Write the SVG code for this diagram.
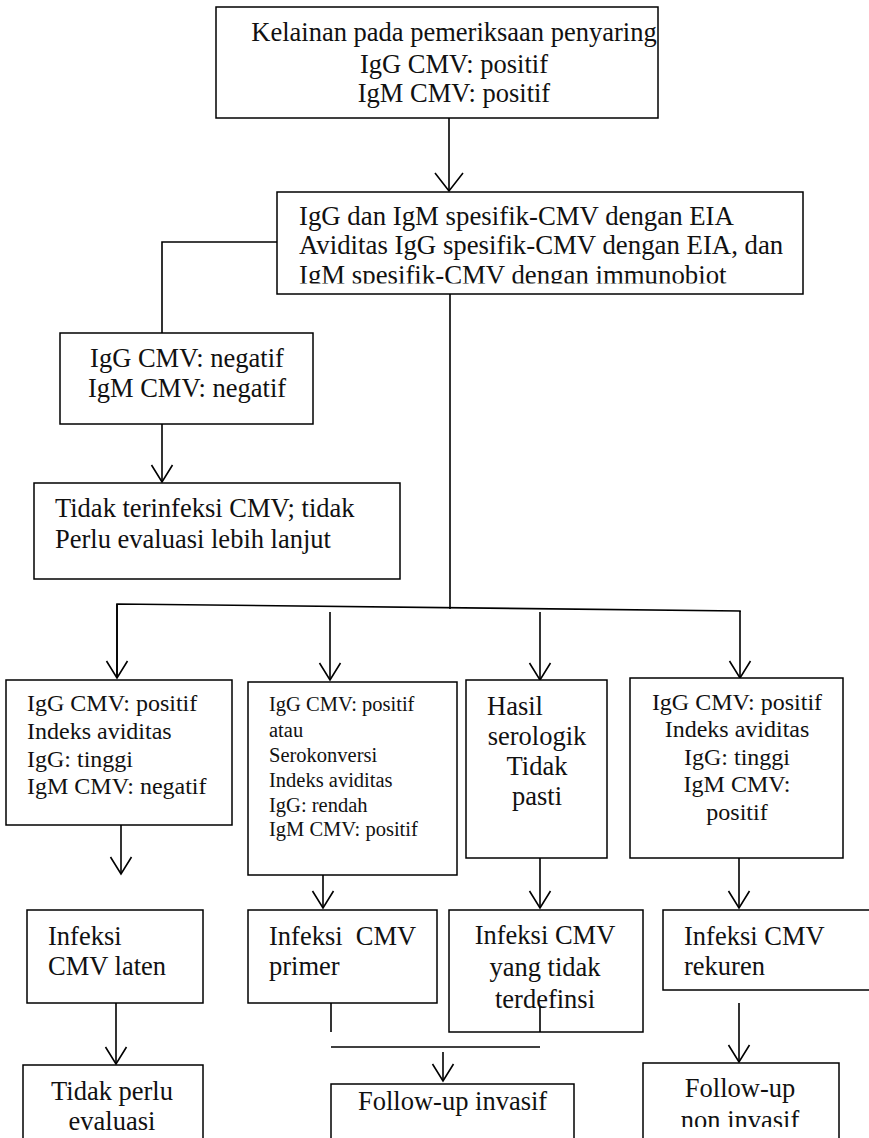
<svg xmlns="http://www.w3.org/2000/svg" width="869" height="1138" viewBox="0 0 869 1138">
  <style>
    .box { fill: #fff; stroke: #000; stroke-width: 1.5; }
    .ln { fill: none; stroke: #000; stroke-width: 1.6; }
    .arr { fill: none; stroke: #000; stroke-width: 1.6; marker-end: url(#vhead); }
    .arr-big { fill: none; stroke: #000; stroke-width: 1.6; marker-end: url(#vhead-big); }
    text { font-family: "Liberation Serif", "Times New Roman", serif; fill: #111; }
    .t26 { font-size: 26.5px; }
    .t27 { font-size: 26.8px; }
    .t24 { font-size: 24px; }
    .t20 { font-size: 20.5px; }
    .mid { text-anchor: middle; }
    .pre { white-space: pre; }
  </style>
  <defs>
    <!-- open V arrowheads -->
    <marker id="vhead" viewBox="-20 -13 24 26" markerWidth="24" markerHeight="26" refX="0" refY="0" orient="auto" markerUnits="userSpaceOnUse" style="overflow:visible">
      <path d="M-17,-10.5 L0,0 L-17,10.5" fill="none" stroke="#000" stroke-width="1.6"/>
    </marker>
    <marker id="vhead-big" viewBox="-22 -16 26 32" markerWidth="26" markerHeight="32" refX="0" refY="0" orient="auto" markerUnits="userSpaceOnUse" style="overflow:visible">
      <path d="M-18,-14 L0,0 L-18,14" fill="none" stroke="#000" stroke-width="1.6"/>
    </marker>
    <clipPath id="clipTest"><rect x="277" y="192" width="526" height="91.5"/></clipPath>
    <clipPath id="clipNonInv"><rect x="643" y="1063" width="196" height="64"/></clipPath>
  </defs>

  <!-- connectors -->
  <g id="connectors">
    <line class="arr-big" x1="449" y1="108" x2="449" y2="191"/>
    <polyline class="ln" points="277,242 162,242 162,343"/>
    <line class="arr" x1="162" y1="424" x2="162" y2="482"/>
    <line class="ln" x1="450" y1="294" x2="450" y2="609"/>
    <polyline class="ln" points="117,678 117,604 740,611 740,612"/>
    <line class="arr" x1="117" y1="604" x2="117" y2="678"/>
    <line class="arr" x1="330" y1="612" x2="330" y2="680"/>
    <line class="arr" x1="540" y1="612" x2="540" y2="680"/>
    <line class="arr" x1="740" y1="611" x2="740" y2="678"/>
    <line class="arr" x1="121" y1="825" x2="121" y2="874"/>
    <line class="arr" x1="323" y1="860" x2="323" y2="908"/>
    <line class="arr" x1="540" y1="858" x2="540" y2="908"/>
    <line class="arr" x1="739" y1="858" x2="739" y2="908"/>
    <line class="arr" x1="116" y1="1003" x2="116" y2="1064"/>
    <line class="ln" x1="331" y1="1003" x2="331" y2="1032"/>
    <line class="ln" x1="331" y1="1047" x2="540" y2="1047"/>
    <line class="arr" x1="443" y1="1052" x2="443" y2="1081"/>
    <line class="arr" x1="739" y1="1003" x2="739" y2="1062"/>
  </g>

  <g id="screening">
    <rect class="box" x="216" y="7" width="442" height="111"/>
    <text class="t26 mid" x="454" y="41">Kelainan pada pemeriksaan penyaring</text>
    <text class="t26 mid" x="454" y="73">IgG CMV: positif</text>
    <text class="t26 mid" x="454" y="102">IgM CMV: positif</text>
  </g>

  <g id="tests">
    <rect class="box" x="277" y="192" width="526" height="102"/>
    <text class="t27" x="299" y="225">IgG dan IgM spesifik-CMV dengan EIA</text>
    <text class="t27" x="299" y="254">Aviditas IgG spesifik-CMV dengan EIA, dan</text>
    <text class="t27" x="299" y="284" clip-path="url(#clipTest)">IgM spesifik-CMV dengan immunobiot</text>
  </g>

  <g id="negative">
    <rect class="box" x="60" y="333" width="253" height="91"/>
    <text class="t26 mid" x="187" y="367">IgG CMV: negatif</text>
    <text class="t26 mid" x="187" y="397">IgM CMV: negatif</text>
  </g>

  <g id="not-infected">
    <rect class="box" x="34" y="483" width="366" height="96"/>
    <text class="t26" x="55" y="517">Tidak terinfeksi CMV; tidak</text>
    <text class="t26" x="55" y="548">Perlu evaluasi lebih lanjut</text>
  </g>

  <g id="latent-criteria">
    <rect class="box" x="6" y="680" width="226" height="145"/>
    <text class="t24" x="27" y="711">IgG CMV: positif</text>
    <text class="t24" x="27" y="739">Indeks aviditas</text>
    <text class="t24" x="27" y="767">IgG: tinggi</text>
    <text class="t24" x="27" y="794">IgM CMV: negatif</text>
  </g>

  <g id="primary-criteria">
    <rect class="box" x="248" y="682" width="209" height="193"/>
    <text class="t20" x="269" y="711">IgG CMV: positif</text>
    <text class="t20" x="269" y="737">atau</text>
    <text class="t20" x="269" y="762">Serokonversi</text>
    <text class="t20" x="269" y="787">Indeks aviditas</text>
    <text class="t20" x="269" y="812">IgG: rendah</text>
    <text class="t20" x="269" y="836">IgM CMV: positif</text>
  </g>

  <g id="uncertain">
    <rect class="box" x="466" y="680" width="141" height="178"/>
    <text class="t26" x="487" y="715">Hasil</text>
    <text class="t26 mid" x="537" y="745">serologik</text>
    <text class="t26 mid" x="537" y="775">Tidak</text>
    <text class="t26 mid" x="537" y="805">pasti</text>
  </g>

  <g id="recurrent-criteria">
    <rect class="box" x="630" y="678" width="213" height="180"/>
    <text class="t24 mid" x="737" y="710">IgG CMV: positif</text>
    <text class="t24 mid" x="737" y="737">Indeks aviditas</text>
    <text class="t24 mid" x="737" y="765">IgG: tinggi</text>
    <text class="t24 mid" x="737" y="792">IgM CMV:</text>
    <text class="t24 mid" x="737" y="820">positif</text>
  </g>

  <g id="latent">
    <rect class="box" x="27" y="910" width="176" height="93"/>
    <text class="t26" x="48" y="945">Infeksi</text>
    <text class="t26" x="48" y="975">CMV laten</text>
  </g>

  <g id="primary">
    <rect class="box" x="248" y="910" width="189" height="93"/>
    <text class="t26 pre" x="269" y="945">Infeksi  CMV</text>
    <text class="t26" x="269" y="975">primer</text>
  </g>

  <g id="undefined">
    <rect class="box" x="449" y="910" width="194" height="122"/>
    <text class="t26 mid" x="545" y="944">Infeksi CMV</text>
    <text class="t26 mid" x="545" y="976">yang tidak</text>
    <text class="t26 mid" x="545" y="1008">terdefinsi</text>
    <line class="ln" x1="540" y1="1007" x2="540" y2="1032"/>
  </g>

  <g id="recurrent">
    <rect class="box" x="663" y="910" width="210" height="80"/>
    <text class="t26" x="684" y="945">Infeksi CMV</text>
    <text class="t26" x="684" y="975">rekuren</text>
  </g>

  <g id="no-evaluation">
    <rect class="box" x="23" y="1065" width="180" height="90"/>
    <text class="t26 mid" x="112" y="1100">Tidak perlu</text>
    <text class="t26 mid" x="112" y="1130">evaluasi</text>
  </g>

  <g id="invasive">
    <rect class="box" x="331" y="1084" width="243" height="70"/>
    <text class="t26" x="358" y="1110">Follow-up invasif</text>
  </g>

  <g id="non-invasive">
    <rect class="box" x="643" y="1063" width="196" height="90"/>
    <text class="t26 mid" x="740" y="1097">Follow-up</text>
    <text class="t26 mid" x="740" y="1129" clip-path="url(#clipNonInv)">non invasif</text>
  </g>
</svg>
